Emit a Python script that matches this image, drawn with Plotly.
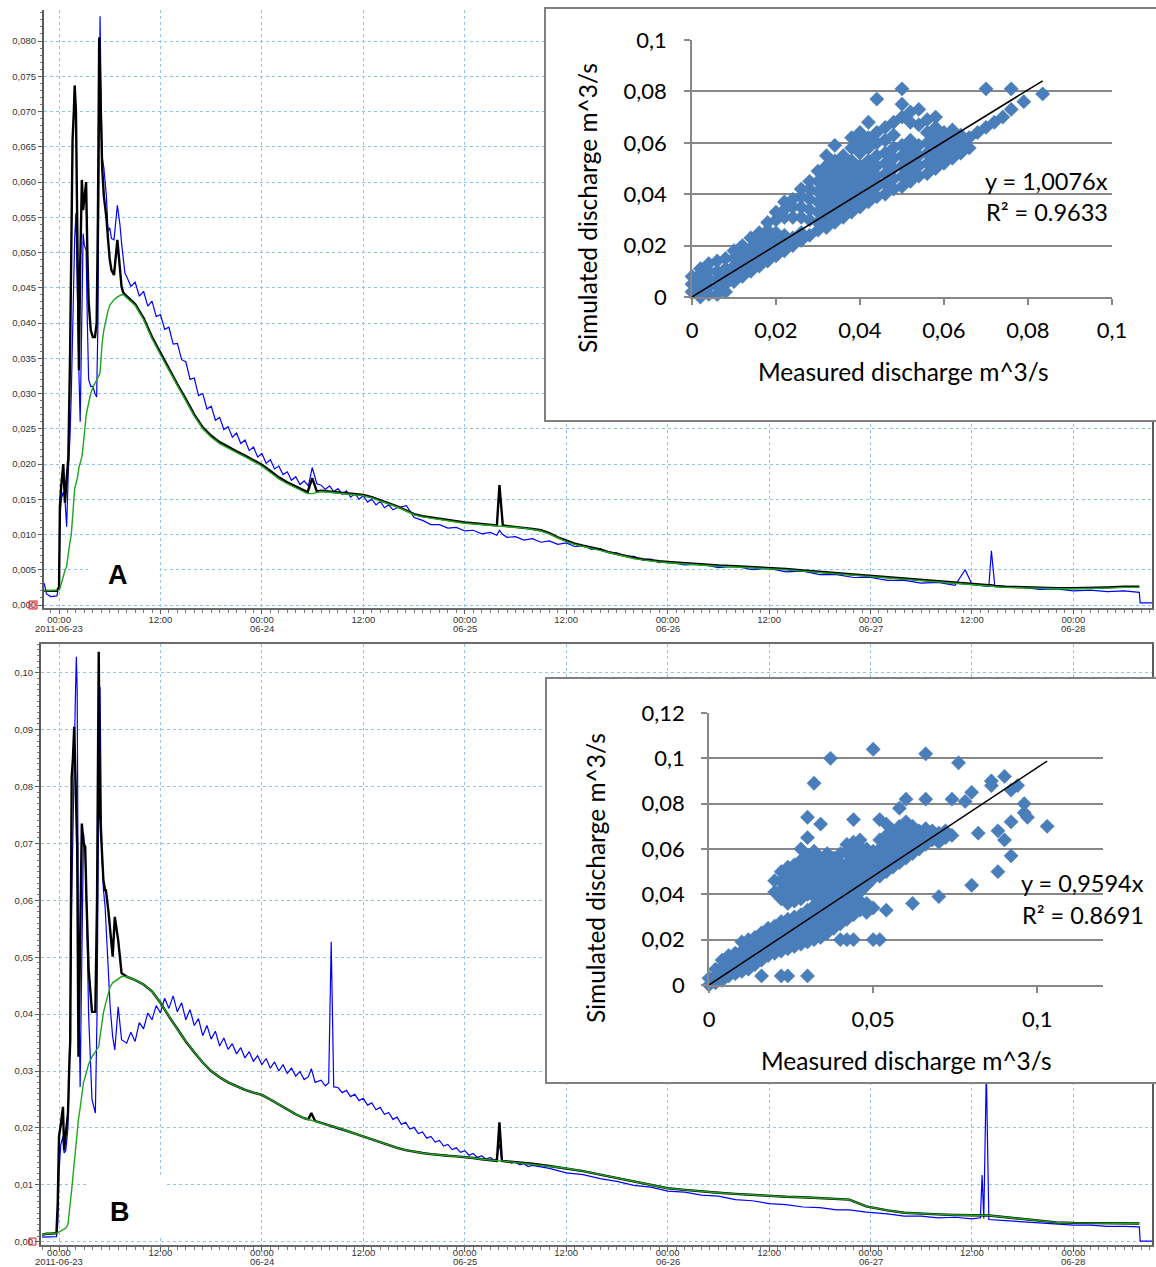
import pandas as pd
import plotly.graph_objects as go

# ------------------------------------------------------------------ data
START = pd.Timestamp("2011-06-23 00:00")

# Panel A, modelled series -- hours after START, discharge in m^3/s
hours_a = [
    -1.75, -1.5, -1.0, -0.5, -0.25, 0.0, 0.1, 0.25, 0.5, 0.7, 0.9,
    1.1, 1.3, 1.45, 1.6, 1.75, 1.85, 2.0, 2.2, 2.35, 2.5, 2.7, 2.85,
    3.0, 3.2, 3.35, 3.5, 3.75, 4.0, 4.25, 4.45, 4.6, 4.75, 4.85,
    5.0, 5.1, 5.3, 5.6, 5.8, 6.0, 6.2, 6.5, 6.9, 7.2, 7.4, 7.6, 7.8,
    8, 9, 10, 11, 12, 13, 14, 15, 16, 17, 18, 19, 20, 21, 22, 23, 24, 25, 26, 27, 28, 29,
    29.4, 29.95, 30.5,
    31, 32, 33, 34, 35, 36, 37, 38, 39, 40,
    41.1,
    42, 43, 44, 45, 46, 47, 48, 49, 50, 51,
    51.8, 52.1, 52.5,
    53, 54, 55, 56, 57, 58, 59, 60, 61, 62, 63, 64, 65, 66, 67, 68, 69, 70, 71, 72,
    74, 76, 78, 80, 82, 84, 86, 88, 90, 92, 94, 96, 98, 100, 102, 104, 106,
    107.2, 108, 110, 110.3, 110.7,
    112, 114, 116, 118, 120, 122, 124, 126,
    127.8, 127.9, 129.3,
]
simulated_a = [
    0.0020, 0.0020, 0.0020, 0.0020, 0.0020, 0.0025, 0.0139, 0.0168, 0.0200, 0.0145, 0.0175,
    0.0210, 0.0350, 0.0520, 0.0660, 0.0700, 0.0737, 0.0700, 0.0450, 0.0333, 0.0480, 0.0603, 0.0560,
    0.0574, 0.0600, 0.0500, 0.0430, 0.0390, 0.0380, 0.0380, 0.0400, 0.0550, 0.0805, 0.0750,
    0.0640, 0.0621, 0.0580, 0.0550, 0.0518, 0.0490, 0.0475, 0.0468, 0.0518, 0.0480, 0.0451, 0.0443, 0.0441,
    0.0438, 0.0427, 0.0407, 0.0380, 0.0357, 0.0335, 0.0313, 0.0292, 0.0270, 0.0252, 0.0240, 0.0231,
    0.0224, 0.0218, 0.0212, 0.0205, 0.0199, 0.0190, 0.0181, 0.0174, 0.0168, 0.0162,
    0.0160, 0.0180, 0.0161,
    0.0162, 0.0161, 0.0160, 0.0159, 0.0158, 0.0156, 0.0153, 0.0149, 0.0145, 0.0140,
    0.0134,
    0.0129, 0.0126, 0.0124, 0.0122, 0.0120, 0.0118, 0.0117, 0.0116, 0.0115, 0.0114,
    0.0113, 0.0170, 0.0113,
    0.0112, 0.0111, 0.0110, 0.0108, 0.0106, 0.0102, 0.0096, 0.0091, 0.0087, 0.0084,
    0.0082, 0.0079, 0.0075, 0.0072, 0.0069, 0.0067, 0.0065, 0.0063, 0.0062, 0.0061,
    0.0059, 0.0057, 0.0056, 0.0055, 0.0054, 0.0053, 0.0051, 0.0049, 0.0047, 0.0045,
    0.0043, 0.0041, 0.0039, 0.0037, 0.0035, 0.0033, 0.0031,
    0.0030, 0.0029, 0.0028, 0.0028, 0.0027,
    0.0026, 0.0025, 0.0024, 0.0024, 0.0024, 0.0024, 0.0025, 0.0026,
    0.0026, None, None,
]
second_model_a = [
    0.0020, 0.0020, 0.0020, 0.0020, 0.0020, 0.0021, 0.0023, 0.0030, 0.0042, 0.0049, 0.0055,
    0.0075, 0.0090, 0.0100, 0.0125, 0.0150, 0.0165, 0.0172, 0.0182, 0.0195, 0.0203, 0.0210, 0.0225,
    0.0245, 0.0268, 0.0278, 0.0288, 0.0300, 0.0309, 0.0314, 0.0318, 0.0322, 0.0326, 0.0330,
    0.0360, 0.0372, 0.0390, 0.0409, 0.0418, 0.0425, 0.0429, 0.0433, 0.0437, 0.0439, 0.0440, 0.0440, 0.0438,
    0.0436, 0.0425, 0.0405, 0.0378, 0.0355, 0.0333, 0.0311, 0.0290, 0.0268, 0.0250, 0.0238, 0.0229,
    0.0222, 0.0216, 0.0210, 0.0203, 0.0197, 0.0188, 0.0179, 0.0172, 0.0166, 0.0160,
    0.0158, 0.0158, 0.0160,
    0.0161, 0.0160, 0.0159, 0.0158, 0.0157, 0.0155, 0.0152, 0.0148, 0.0144, 0.0139,
    0.0133,
    0.0128, 0.0125, 0.0123, 0.0121, 0.0119, 0.0117, 0.0116, 0.0115, 0.0114, 0.0113,
    0.0112, 0.0112, 0.0112,
    0.0111, 0.0110, 0.0109, 0.0107, 0.0105, 0.0101, 0.0095, 0.0090, 0.0086, 0.0083,
    0.0081, 0.0078, 0.0074, 0.0071, 0.0068, 0.0066, 0.0064, 0.0062, 0.0061, 0.0060,
    0.0058, 0.0056, 0.0055, 0.0054, 0.0053, 0.0052, 0.0050, 0.0048, 0.0046, 0.0044,
    0.0042, 0.0040, 0.0038, 0.0036, 0.0034, 0.0032, 0.0030,
    0.0029, 0.0028, 0.0027, 0.0027, 0.0026,
    0.0025, 0.0024, 0.0023, 0.0023, 0.0023, 0.0023, 0.0024, 0.0025,
    0.0025, None, None,
]

# Panel A, measured series (logged more densely where the record is noisy)
hours_a_measured = [
    -1.75, -1.5, -1.0, -0.5, -0.25, 0.0, 0.1, 0.25, 0.5, 0.7, 0.9,
    1.1, 1.3, 1.45, 1.6, 1.75, 1.85, 2.0, 2.2, 2.35, 2.5, 2.7, 2.85,
    3.0, 3.2, 3.35, 3.5, 3.75, 4.0, 4.25, 4.45, 4.6, 4.75, 4.85,
    5.0, 5.1, 5.3, 5.6, 5.8, 6.0, 6.2, 6.5, 6.9, 7.2, 7.4, 7.6, 7.8,
    8.0, 8.5, 9.0, 9.5, 10.0, 10.5, 11.0, 11.5, 12.0, 12.5,
    13.0, 13.5, 14.0, 14.5, 15.0, 15.5, 16.0, 16.5, 17.0, 17.5,
    18.0, 18.5, 19.0, 19.5, 20.0, 20.5, 21.0, 21.5, 22.0, 22.5,
    23.0, 23.5, 24.0, 24.5, 25.0, 25.5, 26.0, 26.5, 27.0, 27.5,
    28.0, 28.5, 29.0, 29.5,
    29.95, 30.5, 31.0, 31.5, 32.0, 32.5, 33.0, 33.5, 34.0, 34.5, 35.0,
    35.5, 36.0, 36.5, 37.0, 37.5, 38.0, 38.5, 39.0, 39.5, 40.0,
    41.1,
    42, 43, 44, 45, 46, 47, 48, 49, 50, 51,
    51.8, 52.1, 52.5,
    53, 54, 55, 56, 57, 58, 59, 60, 61, 62, 63, 64, 65, 66, 67, 68, 69, 70, 71, 72,
    74, 76, 78, 80, 82, 84, 86, 88, 90, 92, 94, 96, 98, 100, 102, 104, 106,
    107.2, 108, 110, 110.3, 110.7,
    112, 114, 116, 118, 120, 122, 124, 126,
    127.8, 127.9, 129.3,
]
measured_a = [
    0.0031, 0.0016, 0.0012, 0.0012, 0.0013, 0.0030, 0.0120, 0.0150, 0.0160, 0.0150, 0.0111,
    0.0190, 0.0240, 0.0300, 0.0400, 0.0480, 0.0520, 0.0556, 0.0400, 0.0330, 0.0260, 0.0450, 0.0527,
    0.0510, 0.0503, 0.0400, 0.0320, 0.0310, 0.0310, 0.0300, 0.0295, 0.0400, 0.0700, 0.0835,
    0.0700, 0.0636, 0.0620, 0.0580, 0.0530, 0.0535, 0.0520, 0.0518, 0.0567, 0.0540, 0.0513, 0.0490, 0.0470,
    0.0466, 0.0452, 0.0458, 0.0438, 0.0445, 0.0424, 0.0431, 0.0409, 0.0412, 0.0391,
    0.0394, 0.0370, 0.0371, 0.0348, 0.0345, 0.0320, 0.0322, 0.0297, 0.0300, 0.0278,
    0.0282, 0.0262, 0.0266, 0.0249, 0.0253, 0.0238, 0.0244, 0.0229, 0.0234, 0.0219,
    0.0224, 0.0210, 0.0215, 0.0201, 0.0206, 0.0193, 0.0197, 0.0185, 0.0189, 0.0177,
    0.0182, 0.0171, 0.0176, 0.0169,
    0.0195, 0.0172, 0.0170, 0.0164, 0.0169, 0.0161, 0.0165, 0.0157, 0.0162, 0.0153, 0.0158,
    0.0150, 0.0155, 0.0146, 0.0150, 0.0142, 0.0147, 0.0138, 0.0142, 0.0135, 0.0138,
    0.0141,
    0.0124, 0.0120, 0.0114, 0.0114, 0.0109, 0.0110, 0.0105, 0.0106, 0.0101, 0.0103,
    0.0099, 0.0106, 0.0100,
    0.0096, 0.0097, 0.0092, 0.0094, 0.0089, 0.0091, 0.0086, 0.0088, 0.0083, 0.0084,
    0.0079, 0.0080, 0.0075, 0.0074, 0.0069, 0.0069, 0.0064, 0.0065, 0.0060, 0.0061,
    0.0057, 0.0058, 0.0053, 0.0055, 0.0050, 0.0052, 0.0047, 0.0048, 0.0043, 0.0043,
    0.0039, 0.0039, 0.0035, 0.0035, 0.0031, 0.0032, 0.0028,
    0.0050, 0.0029, 0.0026, 0.0077, 0.0027,
    0.0025, 0.0025, 0.0022, 0.0023, 0.0020, 0.0021, 0.0019, 0.0020,
    0.0018, 0.0003, 0.0003,
]

# Panel B, modelled series
hours_b = [
    -2.0, -1.5, -1.0, -0.5, -0.3, -0.15, 0.0, 0.2, 0.35, 0.47, 0.6, 0.8,
    1.06, 1.2, 1.33, 1.5, 1.65, 1.8, 1.93, 2.05, 2.15, 2.3, 2.5, 2.7, 2.9,
    3.1, 3.25, 3.5, 3.9, 4.3, 4.5, 4.7, 4.85, 5.05, 5.25, 5.45, 5.55, 5.85,
    6.05, 6.35, 6.6, 7.0, 7.4, 8.0,
    9, 10, 11, 12, 13, 14, 15, 16, 17, 18, 19, 20, 21, 22, 23, 24, 25, 26, 27, 28, 29,
    29.5, 29.85, 30.3,
    31,
    31.9, 32.2, 32.5,
    33, 34, 35, 36, 37, 38, 39, 40, 41, 42, 43, 44, 45, 46, 47, 48, 49, 50, 51,
    51.8, 52.1, 52.4,
    53, 54,
    56, 58, 60, 62, 64, 66, 68, 70, 72,
    74, 76, 78, 80, 82, 84, 86, 88, 90, 92,
    93.5, 95.5,
    98, 100, 102, 104, 106, 108,
    109.0, 109.2, 109.4, 109.7, 110.0,
    112, 114, 116, 118, 120, 122, 124, 126,
    127.8, 127.9, 129.4,
]
simulated_b = [
    0.0012, 0.0014, 0.0014, 0.0014, 0.0015, 0.0068, 0.0185, 0.0205, 0.0220, 0.0237, 0.0161, 0.0196,
    0.0226, 0.0300, 0.0354, 0.0817, 0.0850, 0.0905, 0.0835, 0.0750, 0.0694, 0.0325, 0.0500, 0.0735, 0.0700,
    0.0694, 0.0600, 0.0480, 0.0404, 0.0404, 0.0600, 0.1037, 0.0753, 0.0694, 0.0636, 0.0618, 0.0618, 0.0580,
    0.0548, 0.0501, 0.0571, 0.0530, 0.0472, 0.0466,
    0.0460, 0.0452, 0.0440, 0.0420, 0.0396, 0.0373, 0.0352, 0.0333, 0.0315, 0.0300, 0.0289,
    0.0280, 0.0273, 0.0267, 0.0262, 0.0258, 0.0250, 0.0241, 0.0232, 0.0224, 0.0217,
    0.0215, 0.0226, 0.0212,
    0.0209,
    0.0205, 0.0204, 0.0203,
    0.0200, 0.0195, 0.0190, 0.0185, 0.0179, 0.0174, 0.0169, 0.0165, 0.0161, 0.0158,
    0.0156, 0.0154, 0.0152, 0.0151, 0.0150, 0.0149, 0.0147, 0.0145, 0.0143,
    0.0142, 0.0210, 0.0142,
    0.0141, 0.0140,
    0.0137, 0.0133, 0.0129, 0.0124, 0.0118, 0.0112, 0.0106, 0.0100, 0.0094,
    0.0091, 0.0088, 0.0086, 0.0084, 0.0082, 0.0080, 0.0079, 0.0078, 0.0077, 0.0076,
    0.0074, 0.0062,
    0.0055, 0.0051, 0.0049, 0.0048, 0.0047, 0.0047,
    0.0047, 0.0047, 0.0047, 0.0047, 0.0046,
    0.0043, 0.0040, 0.0037, 0.0034, 0.0033, 0.0033, 0.0032, 0.0032,
    0.0032, None, None,
]
second_model_b = [
    0.0012, 0.0014, 0.0014, 0.0014, 0.0015, 0.0016, 0.0017, 0.0019, 0.0020, 0.0021, 0.0022, 0.0024,
    0.0030, 0.0050, 0.0065, 0.0091, 0.0115, 0.0140, 0.0160, 0.0180, 0.0195, 0.0215, 0.0235, 0.0260, 0.0280,
    0.0290, 0.0300, 0.0312, 0.0325, 0.0335, 0.0340, 0.0343, 0.0360, 0.0385, 0.0402, 0.0415, 0.0420, 0.0435,
    0.0448, 0.0455, 0.0458, 0.0462, 0.0466, 0.0466,
    0.0460, 0.0452, 0.0440, 0.0420, 0.0396, 0.0373, 0.0352, 0.0333, 0.0315, 0.0300, 0.0289,
    0.0280, 0.0273, 0.0267, 0.0262, 0.0258, 0.0250, 0.0241, 0.0232, 0.0224, 0.0217,
    0.0215, 0.0214, 0.0212,
    0.0209,
    0.0205, 0.0204, 0.0203,
    0.0200, 0.0195, 0.0190, 0.0185, 0.0179, 0.0174, 0.0169, 0.0165, 0.0161, 0.0158,
    0.0156, 0.0154, 0.0152, 0.0151, 0.0150, 0.0149, 0.0147, 0.0145, 0.0143,
    0.0142, 0.0142, 0.0142,
    0.0141, 0.0140,
    0.0137, 0.0133, 0.0129, 0.0124, 0.0118, 0.0112, 0.0106, 0.0100, 0.0094,
    0.0091, 0.0088, 0.0086, 0.0084, 0.0082, 0.0080, 0.0079, 0.0078, 0.0077, 0.0076,
    0.0074, 0.0062,
    0.0055, 0.0051, 0.0049, 0.0048, 0.0047, 0.0047,
    0.0047, 0.0047, 0.0047, 0.0047, 0.0046,
    0.0043, 0.0040, 0.0037, 0.0034, 0.0033, 0.0033, 0.0032, 0.0032,
    0.0032, None, None,
]

# Panel B, measured series
hours_b_measured = [
    -2.0, -1.5, -1.0, -0.5, -0.3, -0.15, 0.0, 0.2, 0.35, 0.47, 0.6, 0.8,
    1.06, 1.2, 1.33, 1.5, 1.65, 1.8, 1.93, 2.05, 2.15, 2.3, 2.5, 2.7, 2.9,
    3.1, 3.25, 3.5, 3.9, 4.3, 4.5, 4.7, 4.85, 5.05, 5.25, 5.45, 5.55, 5.85,
    6.05, 6.35, 6.6, 7.0, 7.4, 8.0,
    8.5, 9.0, 9.5, 10.0, 10.5, 11.0, 11.5, 12.0, 12.5, 13.0,
    13.5, 14.0, 14.5, 15.0, 15.5, 16.0, 16.5, 17.0, 17.5, 18.0,
    18.5, 19.0, 19.5, 20.0, 20.5, 21.0, 21.5, 22.0, 22.5, 23.0,
    23.5, 24.0, 24.5, 25.0, 25.5, 26.0, 26.5, 27.0, 27.5, 28.0,
    28.5, 29.0, 29.5,
    29.85, 30.3, 31.0, 31.5, 31.9, 32.2, 32.5,
    33.0, 33.5, 34.0, 34.5, 35.0, 35.5, 36.0, 36.5, 37.0, 37.5,
    38.0, 38.5, 39.0, 39.5, 40.0, 40.5, 41.0, 41.5, 42.0, 42.5,
    43.0, 43.5, 44.0, 44.5, 45.0, 45.5, 46.0, 46.5, 47.0, 47.5,
    48.0, 48.5, 49.0, 49.5, 50.0, 50.5, 51.0, 51.5,
    51.8, 52.1, 52.4, 53.0, 53.5, 54.0, 54.5, 55.0, 55.5, 56.0,
    58, 60, 62, 64, 66, 68, 70, 72,
    74, 76, 78, 80, 82, 84, 86, 88, 90, 92,
    93.5, 95.5,
    98, 100, 102, 104, 106, 108,
    109.0, 109.2, 109.4, 109.7, 110.0,
    112, 114, 116, 118, 120, 122, 124, 126,
    127.8, 127.9, 129.4,
]
measured_b = [
    0.0008, 0.0008, 0.0008, 0.0008, 0.0009, 0.0030, 0.0120, 0.0170, 0.0179, 0.0185, 0.0156, 0.0160,
    0.0200, 0.0280, 0.0400, 0.0600, 0.0750, 0.0880, 0.0950, 0.1028, 0.0970, 0.0500, 0.0272, 0.0500, 0.0718,
    0.0680, 0.0600, 0.0400, 0.0250, 0.0226, 0.0400, 0.0800, 0.0975, 0.0695, 0.0620, 0.0589, 0.0560, 0.0490,
    0.0413, 0.0360, 0.0337, 0.0413, 0.0355, 0.0349,
    0.0368, 0.0352, 0.0385, 0.0374, 0.0402, 0.0390, 0.0415, 0.0402, 0.0428, 0.0410,
    0.0432, 0.0404, 0.0420, 0.0390, 0.0408, 0.0380, 0.0392, 0.0362, 0.0380, 0.0356,
    0.0370, 0.0344, 0.0358, 0.0338, 0.0348, 0.0330, 0.0341, 0.0323, 0.0334, 0.0317,
    0.0327, 0.0311, 0.0322, 0.0305, 0.0316, 0.0300, 0.0311, 0.0296, 0.0305, 0.0291,
    0.0299, 0.0285, 0.0290,
    0.0304, 0.0280, 0.0284, 0.0274, 0.0279, 0.0527, 0.0272,
    0.0271, 0.0262, 0.0266, 0.0255, 0.0259, 0.0248, 0.0252, 0.0240, 0.0244, 0.0232,
    0.0236, 0.0224, 0.0227, 0.0215, 0.0219, 0.0206, 0.0210, 0.0198, 0.0201, 0.0190,
    0.0193, 0.0182, 0.0185, 0.0175, 0.0178, 0.0168, 0.0171, 0.0162, 0.0165, 0.0157,
    0.0160, 0.0152, 0.0155, 0.0148, 0.0151, 0.0145, 0.0148, 0.0143,
    0.0146, 0.0172, 0.0142, 0.0142, 0.0138, 0.0140, 0.0135, 0.0137, 0.0132, 0.0134,
    0.0129, 0.0121, 0.0118, 0.0111, 0.0106, 0.0099, 0.0096, 0.0089,
    0.0087, 0.0082, 0.0080, 0.0074, 0.0072, 0.0067, 0.0065, 0.0061, 0.0060, 0.0056,
    0.0056, 0.0052,
    0.0049, 0.0045, 0.0045, 0.0042, 0.0043, 0.0040,
    0.0042, 0.0117, 0.0041, 0.0300, 0.0039,
    0.0037, 0.0035, 0.0033, 0.0031, 0.0029, 0.0029, 0.0027, 0.0027,
    0.0026, 0.0001, 0.0001,
]

# Scatter insets: measured discharge (column positions) and the simulated
# discharge values found in each column
cloud_a_measured = [
    0.000, 0.002, 0.004, 0.006, 0.008, 0.010, 0.012, 0.014, 0.016, 0.018,
    0.020, 0.022, 0.024, 0.026, 0.028, 0.030, 0.032, 0.034, 0.036, 0.038,
    0.040, 0.042, 0.044, 0.046, 0.048, 0.050, 0.052, 0.054, 0.056, 0.058,
    0.060, 0.062, 0.064, 0.066, 0.068, 0.070, 0.072, 0.074, 0.076, 0.079, 0.0835,
]
cloud_a_simulated = [
    [0.002, 0.005, 0.008],
    [0.000, 0.003, 0.006, 0.009, 0.011],
    [0.001, 0.004, 0.007, 0.010, 0.013],
    [0.001, 0.004, 0.007, 0.010, 0.014],
    [0.002, 0.005, 0.008, 0.011, 0.015],
    [0.006, 0.009, 0.012, 0.015, 0.018],
    [0.008, 0.011, 0.014, 0.017, 0.020],
    [0.010, 0.013, 0.016, 0.019, 0.023],
    [0.012, 0.015, 0.018, 0.021, 0.025],
    [0.014, 0.017, 0.020, 0.023, 0.026, 0.029],
    [0.016, 0.019, 0.022, 0.025, 0.030, 0.033],
    [0.018, 0.021, 0.024, 0.031, 0.034, 0.037],
    [0.020, 0.023, 0.031, 0.035, 0.038],
    [0.022, 0.025, 0.031, 0.035, 0.039, 0.042],
    [0.024, 0.030, 0.034, 0.038, 0.042, 0.045],
    [0.026, 0.029, 0.033, 0.037, 0.041, 0.045, 0.049],
    [0.027, 0.031, 0.035, 0.039, 0.043, 0.047, 0.051, 0.055],
    [0.029, 0.033, 0.037, 0.041, 0.045, 0.049, 0.053, 0.059],
    [0.031, 0.035, 0.039, 0.043, 0.047, 0.051, 0.055],
    [0.033, 0.037, 0.041, 0.045, 0.049, 0.053, 0.058, 0.062],
    [0.035, 0.039, 0.043, 0.047, 0.051, 0.056, 0.060, 0.064],
    [0.037, 0.041, 0.045, 0.049, 0.053, 0.058, 0.062, 0.068],
    [0.039, 0.043, 0.047, 0.051, 0.055, 0.060, 0.064, 0.077],
    [0.040, 0.044, 0.048, 0.052, 0.056, 0.061, 0.066],
    [0.042, 0.046, 0.050, 0.054, 0.058, 0.063, 0.068],
    [0.043, 0.047, 0.051, 0.055, 0.059, 0.070, 0.075, 0.081],
    [0.045, 0.049, 0.053, 0.057, 0.061, 0.068, 0.072],
    [0.047, 0.051, 0.055, 0.059, 0.067, 0.073],
    [0.048, 0.052, 0.056, 0.060, 0.064, 0.069],
    [0.050, 0.054, 0.058, 0.062, 0.066, 0.070],
    [0.052, 0.056, 0.060, 0.064],
    [0.054, 0.058, 0.062, 0.065],
    [0.056, 0.060, 0.063],
    [0.058, 0.062],
    [0.064],
    [0.066, 0.081],
    [0.068],
    [0.070],
    [0.073, 0.081],
    [0.076],
    [0.079],
]
cloud_b_measured = [
    0.000, 0.002, 0.004, 0.006, 0.008, 0.010, 0.012, 0.014, 0.016, 0.018,
    0.020, 0.022, 0.024, 0.026, 0.028, 0.030, 0.032, 0.034, 0.036, 0.037,
    0.038, 0.040, 0.042, 0.044, 0.046, 0.048, 0.050, 0.052, 0.054, 0.056,
    0.058, 0.060, 0.062, 0.064, 0.066, 0.068, 0.070, 0.072, 0.074, 0.076,
    0.078, 0.080, 0.082, 0.086, 0.088, 0.090, 0.092, 0.094, 0.096, 0.097, 0.103,
]
cloud_b_simulated = [
    [0.000, 0.003],
    [0.001, 0.004, 0.007],
    [0.002, 0.005, 0.008, 0.011],
    [0.004, 0.007, 0.010, 0.013],
    [0.005, 0.008, 0.011, 0.014],
    [0.006, 0.009, 0.012, 0.015, 0.019],
    [0.007, 0.010, 0.013, 0.016, 0.020],
    [0.009, 0.012, 0.015, 0.018, 0.021],
    [0.004, 0.011, 0.014, 0.017, 0.020, 0.023],
    [0.013, 0.016, 0.019, 0.022, 0.025],
    [0.014, 0.017, 0.020, 0.023, 0.026, 0.041, 0.046],
    [0.004, 0.015, 0.018, 0.021, 0.024, 0.028, 0.038, 0.042, 0.046, 0.050],
    [0.004, 0.016, 0.019, 0.022, 0.025, 0.029, 0.036, 0.040, 0.044, 0.048, 0.052],
    [0.017, 0.020, 0.023, 0.026, 0.030, 0.037, 0.041, 0.045, 0.049, 0.053],
    [0.018, 0.021, 0.024, 0.028, 0.031, 0.038, 0.042, 0.046, 0.050, 0.055, 0.060],
    [0.004, 0.019, 0.022, 0.025, 0.029, 0.033, 0.040, 0.044, 0.048, 0.052, 0.057, 0.065, 0.074],
    [0.020, 0.023, 0.027, 0.031, 0.035, 0.039, 0.043, 0.047, 0.051, 0.055, 0.059, 0.089],
    [0.021, 0.024, 0.028, 0.032, 0.036, 0.040, 0.044, 0.048, 0.052, 0.056, 0.071],
    [0.023, 0.026, 0.030, 0.034, 0.038, 0.042, 0.046, 0.050, 0.054, 0.058],
    [0.100],
    [0.025, 0.028, 0.032, 0.036, 0.040, 0.044, 0.048, 0.052, 0.056],
    [0.020, 0.027, 0.030, 0.034, 0.038, 0.042, 0.046, 0.050, 0.054, 0.058],
    [0.020, 0.029, 0.033, 0.037, 0.041, 0.045, 0.049, 0.053, 0.058, 0.062],
    [0.020, 0.031, 0.035, 0.039, 0.043, 0.047, 0.051, 0.055, 0.059, 0.063, 0.073],
    [0.033, 0.037, 0.041, 0.045, 0.049, 0.053, 0.057, 0.061, 0.064],
    [0.032, 0.036, 0.044, 0.048, 0.052, 0.056, 0.060],
    [0.020, 0.034, 0.047, 0.051, 0.055, 0.059, 0.104],
    [0.020, 0.048, 0.052, 0.056, 0.060, 0.064, 0.073],
    [0.033, 0.050, 0.054, 0.058, 0.062, 0.066, 0.071],
    [0.052, 0.056, 0.060, 0.064, 0.068],
    [0.054, 0.058, 0.062, 0.066, 0.070, 0.078],
    [0.056, 0.060, 0.064, 0.068, 0.072, 0.082],
    [0.036, 0.058, 0.062, 0.066, 0.070],
    [0.060, 0.064, 0.068],
    [0.062, 0.066, 0.069, 0.082, 0.102],
    [0.064, 0.068],
    [0.039, 0.063, 0.067],
    [0.065, 0.068],
    [0.066, 0.082],
    [0.098],
    [0.081],
    [0.044, 0.085],
    [0.067],
    [0.088, 0.090],
    [0.050, 0.068],
    [0.064, 0.092],
    [0.057, 0.072, 0.086],
    [0.088],
    [0.076, 0.080],
    [0.074],
    [0.070],
]

# time axis: tick positions (hours after START), clock labels, and the date
# line written under each midnight tick
time_tick_hours = [0, 12, 24, 36, 48, 60, 72, 84, 96, 108, 120]
time_tick_text = ["00:00", "12:00", "00:00", "12:00", "00:00", "12:00",
                  "00:00", "12:00", "00:00", "12:00", "00:00"]
date_tick_hours = [0, 24, 48, 72, 96, 120]
date_tick_text = ["2011-06-23", "06-24", "06-25", "06-26", "06-27", "06-28"]

# regression results shown in the scatter insets
slope_a, r2_a = 1.0076, "0.9633"
slope_b, r2_b = 0.9594, "0.8691"

inset_a_ticks = [0, 0.02, 0.04, 0.06, 0.08, 0.1]
inset_a_labels = ["0", "0,02", "0,04", "0,06", "0,08", "0,1"]
inset_b_yticks = [0, 0.02, 0.04, 0.06, 0.08, 0.1, 0.12]
inset_b_ylabels = ["0", "0,02", "0,04", "0,06", "0,08", "0,1", "0,12"]
inset_b_xticks = [0, 0.05, 0.1]
inset_b_xlabels = ["0", "0,05", "0,1"]

for name, hrs, seq in [("simulated_a", hours_a, simulated_a), ("second_model_a", hours_a, second_model_a),
                       ("measured_a", hours_a_measured, measured_a),
                       ("simulated_b", hours_b, simulated_b), ("second_model_b", hours_b, second_model_b),
                       ("measured_b", hours_b_measured, measured_b)]:
    assert len(seq) == len(hrs), (name, len(seq), len(hrs))
assert len(cloud_a_measured) == len(cloud_a_simulated)
assert len(cloud_b_measured) == len(cloud_b_simulated)

# ------------------------------------------------------------------ helpers
W, H = 1156, 1267


def fx(px):
    return px / W


def fy(py):
    return 1 - py / H


def stamps(hours):
    return [START + pd.Timedelta(hours=h) for h in hours]


def flatten_cloud(columns, values):
    xs, ys = [], []
    for x, col in zip(columns, values):
        for y in col:
            xs.append(x)
            ys.append(y)
    return xs, ys


GRID = "#8ec3f3"
AXIS_DARK = "#5a5a5a"
TICK_FONT = dict(family="Liberation Sans, Arial", size=9.5, color="#333333")
XL_FONT = dict(family="Lato", size=22, color="#000000")
XL_TITLE = dict(family="Lato", size=24.5, color="#000000")
XL_EQ = dict(family="Lato", size=23.5, color="#000000")
XL_GRAY = "#878787"
DIAMOND = "#4a7ebb"

fig = go.Figure()

# ------------------------------------------------------------------ time series panels
for hrs_m, meas, hrs, sim, sec, xa, ya in [
    (hours_a_measured, measured_a, hours_a, simulated_a, second_model_a, "x", "y"),
    (hours_b_measured, measured_b, hours_b, simulated_b, second_model_b, "x2", "y2"),
]:
    fig.add_trace(go.Scatter(x=stamps(hrs_m), y=meas, mode="lines", line=dict(color="#0000ff", width=1.2),
                             xaxis=xa, yaxis=ya, showlegend=False, hoverinfo="skip"))
    t = stamps(hrs)
    fig.add_trace(go.Scatter(x=t, y=sim, mode="lines", line=dict(color="#000000", width=2.4),
                             xaxis=xa, yaxis=ya, showlegend=False, hoverinfo="skip"))
    fig.add_trace(go.Scatter(x=t, y=sec, mode="lines", line=dict(color="#1fa51f", width=1.4),
                             xaxis=xa, yaxis=ya, showlegend=False, hoverinfo="skip"))

# ------------------------------------------------------------------ inset frames (empty subplots)
for xa, ya in [("x3", "y3"), ("x5", "y5")]:
    fig.add_trace(go.Scatter(x=[None], y=[None], xaxis=xa, yaxis=ya, showlegend=False, hoverinfo="skip"))

# ------------------------------------------------------------------ scatter insets
for cols, vals, slope, xa, ya in [
    (cloud_a_measured, cloud_a_simulated, slope_a, "x4", "y4"),
    (cloud_b_measured, cloud_b_simulated, slope_b, "x6", "y6"),
]:
    px_, py_ = flatten_cloud(cols, vals)
    fig.add_trace(go.Scatter(x=px_, y=py_, mode="markers",
                             marker=dict(symbol="diamond", size=11, color=DIAMOND,
                                         line=dict(color=DIAMOND, width=0.5)),
                             cliponaxis=False, xaxis=xa, yaxis=ya, showlegend=False, hoverinfo="skip"))
    lo, hi = min(px_), max(px_)
    fig.add_trace(go.Scatter(x=[lo, hi], y=[slope * lo, slope * hi], mode="lines",
                             line=dict(color="#000000", width=1.5),
                             xaxis=xa, yaxis=ya, showlegend=False, hoverinfo="skip"))


def time_axis(left, right, h0, h1, anchor, mirror, standoff):
    return dict(
        domain=[fx(left), fx(right)], anchor=anchor, type="date", automargin=False,
        range=[START + pd.Timedelta(hours=h0), START + pd.Timedelta(hours=h1)],
        tickmode="array", tickvals=stamps(time_tick_hours), ticktext=time_tick_text,
        tickfont=TICK_FONT, ticks="outside", ticklen=4, tickcolor=AXIS_DARK,
        ticklabelstandoff=standoff,
        showgrid=True, gridcolor=GRID, griddash="dot", gridwidth=1,
        minor=dict(tickmode="linear", tick0=START, dtick=3600000, ticks="outside",
                   ticklen=3, tickcolor="#777777", showgrid=False),
        showline=True, linecolor="#6a6a6a", linewidth=2, mirror=mirror,
        zeroline=False, fixedrange=True,
    )


def value_axis(bottom, top, lo, hi, step, fmt, anchor):
    return dict(
        domain=[fy(bottom), fy(top)], anchor=anchor, range=[lo, hi], automargin=False,
        tickmode="linear", tick0=0, dtick=step, tickformat=fmt,
        tickfont=TICK_FONT, ticks="outside", ticklen=4, tickcolor=AXIS_DARK,
        showgrid=True, gridcolor=GRID, griddash="dot", gridwidth=1,
        minor=dict(dtick=0.001, ticks="outside", ticklen=2, tickcolor="#777777", showgrid=False),
        showline=True, linecolor=AXIS_DARK, linewidth=2, mirror=True,
        zeroline=False, fixedrange=True,
    )


def frame_axis(lo, hi, anchor, mirror):
    return dict(domain=[lo, hi], anchor=anchor, range=[0, 1], showticklabels=False, ticks="",
                showgrid=False, zeroline=False, showline=True, mirror=mirror, automargin=False,
                linecolor="#808080", linewidth=2, fixedrange=True)


def xl_axis(lo_px, hi_px, rng, tickvals, ticktext, anchor, grid, vertical, standoff):
    if vertical:
        dom = [fy(lo_px), fy(hi_px)]
    else:
        dom = [fx(lo_px), fx(hi_px)]
    return dict(domain=dom, anchor=anchor, range=rng, tickmode="array", automargin=False,
                tickvals=tickvals, ticktext=ticktext, tickfont=XL_FONT,
                ticks="outside", ticklen=6, tickwidth=1.5, tickcolor=XL_GRAY,
                ticklabelstandoff=standoff,
                showgrid=grid, gridcolor=XL_GRAY, gridwidth=1.5,
                showline=True, linecolor=XL_GRAY, linewidth=1.5,
                zeroline=False, fixedrange=True)


fig.update_layout(
    width=W, height=H, margin=dict(l=0, r=0, t=0, b=0, pad=0, autoexpand=False),
    paper_bgcolor="white", plot_bgcolor="white", separators=",.",
    showlegend=False,
    xaxis=time_axis(44, 1152, -1.78, 129.3, "y", False, -2),
    yaxis=value_axis(608, 10, -0.000426, 0.0844, 0.005, ".3f", "x"),
    xaxis2=time_axis(41, 1152, -2.13, 129.3, "y2", True, -6),
    yaxis2=value_axis(1245, 644, -0.00058, 0.10505, 0.01, ".2f", "x2"),
    xaxis3=frame_axis(fx(546), 1.0, "y3", True),
    yaxis3=frame_axis(fy(420), fy(9), "x3", False),
    xaxis4=xl_axis(692, 1112, [0, 0.1], inset_a_ticks, inset_a_labels, "y4", False, False, 7),
    yaxis4=xl_axis(297, 40, [0, 0.1], inset_a_ticks, inset_a_labels, "x4", True, True, 13),
    xaxis5=frame_axis(fx(547), 1.0, "y5", True),
    yaxis5=frame_axis(fy(1082), fy(679), "x5", False),
    xaxis6=xl_axis(709, 1103, [0, 0.12], inset_b_xticks, inset_b_xlabels, "y6", False, False, 8),
    yaxis6=xl_axis(985, 713, [0, 0.12], inset_b_yticks, inset_b_ylabels, "x6", True, True, 12),
)

# white patches behind the panel letters, and the flagged zero labels
shapes = [
    dict(type="rect", xref="paper", yref="paper", x0=fx(88), x1=fx(160), y0=fy(600), y1=fy(548),
         fillcolor="white", line=dict(width=0), layer="above"),
    dict(type="rect", xref="paper", yref="paper", x0=fx(88), x1=fx(164), y0=fy(1238), y1=fy(1178),
         fillcolor="white", line=dict(width=0), layer="above"),
    dict(type="rect", xref="paper", yref="paper", x0=fx(29), x1=fx(37), y0=fy(609), y1=fy(601),
         fillcolor="rgba(255,80,80,0.35)", line=dict(color="#e02020", width=1), layer="above"),
    dict(type="rect", xref="paper", yref="paper", x0=fx(29), x1=fx(36), y0=fy(1245), y1=fy(1238),
         fillcolor="rgba(255,80,80,0.15)", line=dict(color="#e02020", width=1), layer="above"),
]
fig.update_layout(shapes=shapes)

letter_font = dict(family="Liberation Sans, Arial", size=27, color="#000000")
ann = [
    dict(text="<b>A</b>", x=fx(118), y=fy(575), font=letter_font),
    dict(text="<b>B</b>", x=fx(120), y=fy(1212), font=letter_font),
    # inset A titles and regression text
    dict(text="Simulated discharge m^3/s", x=fx(588), y=fy(208), textangle=-90, font=XL_TITLE),
    dict(text="Measured discharge m^3/s", x=fx(903), y=fy(372), font=XL_TITLE),
    dict(text="y = " + f"{slope_a:.4f}".replace(".", ",") + "x", x=fx(1110), y=fy(181),
         xanchor="right", font=XL_EQ),
    dict(text="R² = " + r2_a, x=fx(1110), y=fy(212), xanchor="right", font=XL_EQ),
    # inset B titles and regression text
    dict(text="Simulated discharge m^3/s", x=fx(595), y=fy(878), textangle=-90, font=XL_TITLE),
    dict(text="Measured discharge m^3/s", x=fx(906), y=fy(1060), font=XL_TITLE),
    dict(text="y = " + f"{slope_b:.4f}".replace(".", ",") + "x", x=fx(1146), y=fy(883),
         xanchor="right", font=XL_EQ),
    dict(text="R² = " + r2_b, x=fx(1146), y=fy(915), xanchor="right", font=XL_EQ),
]
for a in ann:
    a.setdefault("xanchor", "center")
    a.update(xref="paper", yref="paper", yanchor="middle", showarrow=False)

# date line under the midnight ticks of both time axes
for xa, ypix in [("x", 628), ("x2", 1261)]:
    for h, txt in zip(date_tick_hours, date_tick_text):
        ann.append(dict(text=txt, x=START + pd.Timedelta(hours=h), xref=xa,
                        y=fy(ypix), yref="paper", xanchor="center", yanchor="middle",
                        showarrow=False, font=TICK_FONT, borderpad=0))
fig.update_layout(annotations=ann)

# the page itself adds no margin around the figure
fig.write_html("out.html", post_script="document.body.style.margin='0';"
                                       "document.body.style.overflow='hidden';")
